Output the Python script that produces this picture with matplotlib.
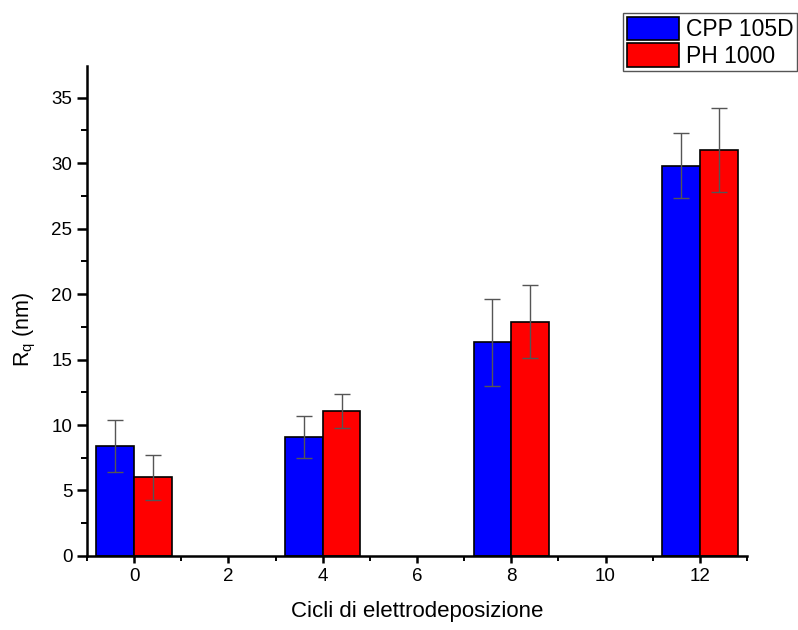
import numpy as np
import matplotlib.pyplot as plt
from matplotlib.ticker import MultipleLocator

plt.rcParams['font.family'] = ['Liberation Sans', 'DejaVu Sans']

# Dati
cicli = np.array([0, 4, 8, 12])
rq_cpp = [8.4, 9.1, 16.3, 29.8]
err_cpp = [2.0, 1.6, 3.3, 2.5]
rq_ph = [6.0, 11.1, 17.9, 31.0]
err_ph = [1.7, 1.3, 2.8, 3.2]

larghezza = 0.8

fig = plt.figure(figsize=(7.98, 6.30), dpi=100)
ax = fig.add_axes([0.109, 0.1175, 0.827, 0.7775])

ax.bar(cicli - larghezza / 2, rq_cpp, width=larghezza, color='#0000ff',
       edgecolor='black', linewidth=1.2, label='CPP 105D')
ax.bar(cicli + larghezza / 2, rq_ph, width=larghezza, color='#ff0000',
       edgecolor='black', linewidth=1.2, label='PH 1000')
ax.errorbar(cicli - larghezza / 2, rq_cpp, yerr=err_cpp, fmt='none',
            ecolor='#555555', elinewidth=1, capsize=5.5, capthick=1)
ax.errorbar(cicli + larghezza / 2, rq_ph, yerr=err_ph, fmt='none',
            ecolor='#555555', elinewidth=1, capsize=5.5, capthick=1)

ax.set_xlim(-1, 13)
ax.set_ylim(0, 37.4)
ax.xaxis.set_major_locator(MultipleLocator(2))
ax.xaxis.set_minor_locator(MultipleLocator(1))
ax.yaxis.set_major_locator(MultipleLocator(5))
ax.yaxis.set_minor_locator(MultipleLocator(2.5))

for lato in ['top', 'right']:
    ax.spines[lato].set_visible(False)
for lato in ['left', 'bottom']:
    ax.spines[lato].set_linewidth(1.8)

ax.tick_params(which='major', direction='out', width=1.8, labelsize=13.5)
ax.tick_params(axis='y', which='major', length=7)
ax.tick_params(axis='x', which='major', length=5)
ax.tick_params(axis='y', which='minor', direction='out', length=4, width=1.4)
ax.tick_params(axis='x', which='minor', direction='out', length=3.5, width=1.4)

ax.set_xlabel('Cicli di elettrodeposizione', fontsize=16, labelpad=12)
ax.set_ylabel('R$_\\mathregular{q}$ (nm)', fontsize=15.5, labelpad=10)
ax.yaxis.label.set_y(0.463)

fig.legend(loc='upper left', bbox_to_anchor=(0.781, 0.979), fontsize=16.5,
           frameon=True, fancybox=False, edgecolor='#555555', framealpha=1,
           handlelength=2.3, handleheight=1.2, handletextpad=0.3,
           borderpad=0.15, labelspacing=0.1, borderaxespad=0)

fig.savefig('out.png', dpi=100)
